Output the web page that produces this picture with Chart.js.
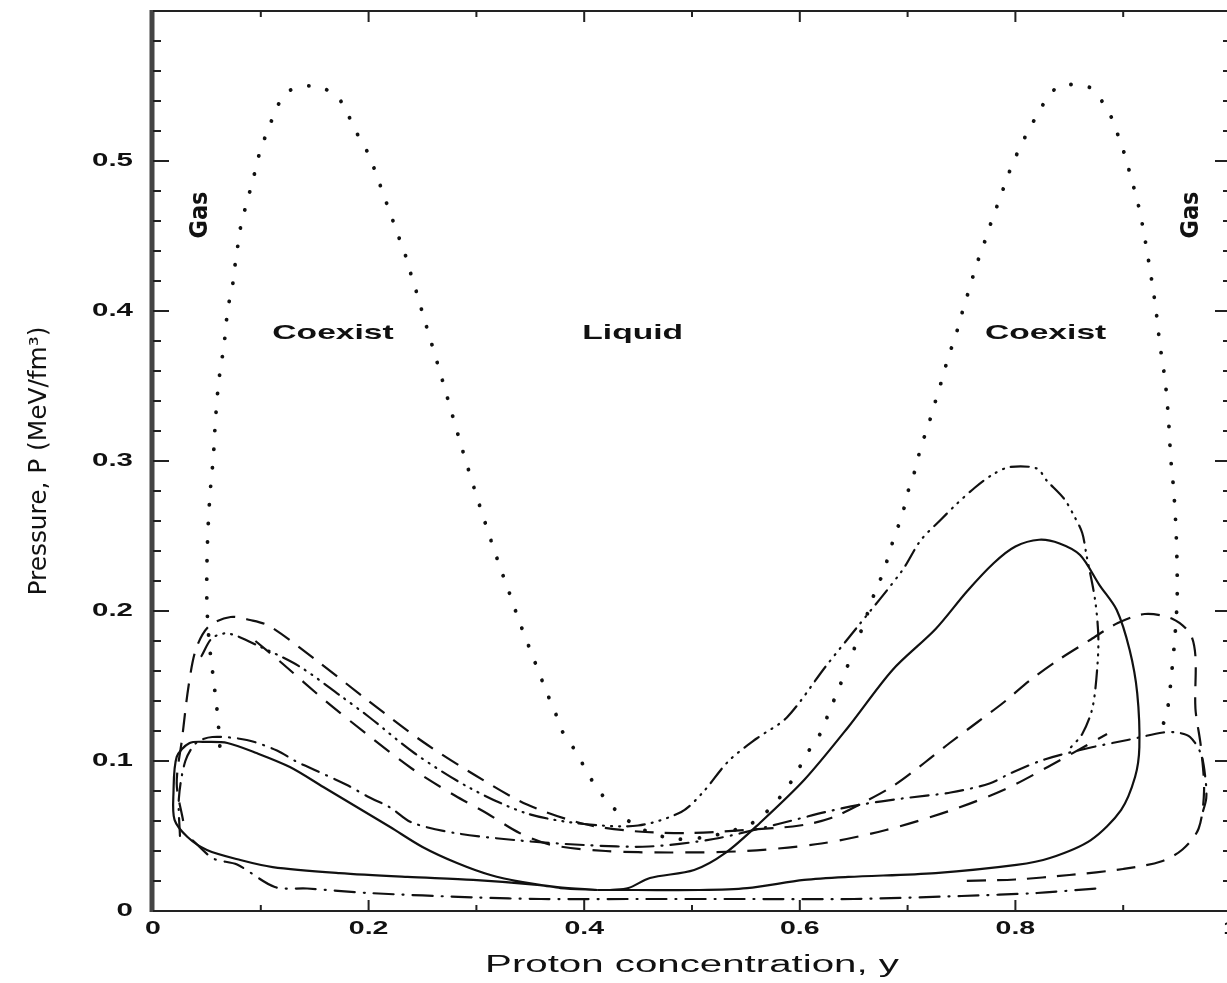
<!DOCTYPE html>
<html>
<head>
<meta charset="utf-8">
<script src="https://cdn.jsdelivr.net/npm/chart.js@4/dist/chart.umd.min.js"></script>
<style>
  html, body { margin: 0; padding: 0; overflow: hidden; background: #fff; }
  #wrap { position: absolute; left: 0; top: 0; width: 1250px; height: 983px; }
</style>
</head>
<body>
<div id="wrap"><canvas id="phaseChart"></canvas></div>
<script>
// axis ticks
const xTickValues = [0, 0.2, 0.4, 0.6, 0.8, 1];
const xTickLabels = ['0', '0.2', '0.4', '0.6', '0.8', '1'];
const yTickValues = [0, 0.1, 0.2, 0.3, 0.4, 0.5];
const yTickLabels = ['0', '0.1', '0.2', '0.3', '0.4', '0.5'];

// solid curve, left lobe (proton fraction y, pressure P)
const solidLeftY = [0.412, 0.378, 0.359, 0.297, 0.236, 0.173, 0.111, 0.081, 0.050, 0.032, 0.020, 0.019, 0.022, 0.034, 0.050, 0.069, 0.096, 0.127, 0.158, 0.189, 0.220, 0.250, 0.282, 0.313, 0.343, 0.375, 0.412];
const solidLeftP = [0.014, 0.0153, 0.0173, 0.0207, 0.0227, 0.0253, 0.0293, 0.034, 0.0407, 0.0493, 0.0607, 0.0787, 0.1027, 0.112, 0.1127, 0.112, 0.1053, 0.096, 0.0827, 0.0693, 0.056, 0.0427, 0.032, 0.024, 0.0193, 0.016, 0.014];

// solid curve, right lobe
const solidRightY = [0.412, 0.449, 0.507, 0.551, 0.604, 0.645, 0.726, 0.801, 0.832, 0.870, 0.898, 0.911, 0.915, 0.913, 0.906, 0.894, 0.878, 0.860, 0.841, 0.822, 0.800, 0.780, 0.755, 0.726, 0.686, 0.645, 0.604, 0.563, 0.531, 0.502, 0.461, 0.441, 0.424];
const solidRightP = [0.014, 0.014, 0.014, 0.0153, 0.0207, 0.0227, 0.0253, 0.0307, 0.0353, 0.0473, 0.0673, 0.0893, 0.1093, 0.1453, 0.174, 0.2007, 0.2173, 0.2373, 0.245, 0.2475, 0.243, 0.232, 0.213, 0.188, 0.1607, 0.1227, 0.0873, 0.0587, 0.0387, 0.0273, 0.022, 0.0153, 0.014];

// dotted curve
const dottedY = [0.062, 0.060, 0.056, 0.052, 0.050, 0.050, 0.051, 0.053, 0.056, 0.058, 0.061, 0.066, 0.0696, 0.0733, 0.0751, 0.0779, 0.0798, 0.0835, 0.0881, 0.0928, 0.0965, 0.102, 0.1085, 0.115, 0.126, 0.151, 0.171, 0.181, 0.189, 0.198, 0.205, 0.211, 0.217, 0.223, 0.229, 0.235, 0.240, 0.245, 0.250, 0.268, 0.286, 0.304, 0.322, 0.328, 0.340, 0.3525, 0.3655, 0.373, 0.379, 0.390, 0.398, 0.407, 0.419, 0.432, 0.444, 0.462, 0.485, 0.510, 0.535, 0.556, 0.568, 0.581, 0.593, 0.602, 0.610, 0.621, 0.627, 0.6345, 0.6475, 0.660, 0.672, 0.676, 0.682, 0.687, 0.693, 0.698, 0.702, 0.708, 0.712, 0.718, 0.723, 0.728, 0.733, 0.738, 0.744, 0.749, 0.754, 0.759, 0.764, 0.770, 0.776, 0.782, 0.788, 0.794, 0.801, 0.809, 0.818, 0.827, 0.841, 0.869, 0.882, 0.891, 0.897, 0.903, 0.907, 0.912, 0.916, 0.919, 0.925, 0.930, 0.934, 0.939, 0.942, 0.944, 0.947, 0.949, 0.950, 0.950, 0.948, 0.945, 0.941, 0.936];
const dottedP = [0.110, 0.130, 0.155, 0.180, 0.205, 0.229, 0.254, 0.279, 0.303, 0.328, 0.353, 0.378, 0.4027, 0.414, 0.426, 0.4387, 0.4507, 0.4627, 0.4753, 0.4873, 0.4993, 0.512, 0.524, 0.536, 0.5467, 0.550, 0.5427, 0.5307, 0.5187, 0.5073, 0.4953, 0.4833, 0.4713, 0.4593, 0.4473, 0.4353, 0.4227, 0.4113, 0.3987, 0.355, 0.310, 0.268, 0.229, 0.2173, 0.1927, 0.1693, 0.1453, 0.1327, 0.1207, 0.1087, 0.0987, 0.0873, 0.0753, 0.0653, 0.0587, 0.052, 0.048, 0.049, 0.053, 0.0587, 0.0653, 0.0753, 0.0873, 0.0987, 0.1087, 0.1207, 0.1327, 0.1453, 0.1693, 0.1927, 0.2173, 0.223, 0.236, 0.248, 0.260, 0.272, 0.284, 0.296, 0.309, 0.321, 0.333, 0.345, 0.357, 0.370, 0.382, 0.395, 0.407, 0.419, 0.431, 0.443, 0.456, 0.468, 0.480, 0.492, 0.504, 0.516, 0.528, 0.539, 0.550, 0.549, 0.538, 0.526, 0.513, 0.501, 0.489, 0.477, 0.464, 0.453, 0.427, 0.403, 0.378, 0.353, 0.328, 0.303, 0.279, 0.254, 0.229, 0.207, 0.183, 0.159, 0.134, 0.122];

// long-dash curve, upper
const dashY = [0.028, 0.022, 0.027, 0.033, 0.040, 0.052, 0.072, 0.090, 0.108, 0.150, 0.200, 0.250, 0.300, 0.347, 0.400, 0.450, 0.500, 0.550, 0.600, 0.629, 0.658, 0.688, 0.716, 0.739, 0.765, 0.789, 0.814, 0.839, 0.870, 0.895, 0.920, 0.945, 0.962, 0.967, 0.967, 0.972, 0.975, 0.970, 0.955, 0.935, 0.900, 0.850, 0.800, 0.750];
const dashP = [0.060, 0.085, 0.115, 0.150, 0.175, 0.190, 0.196, 0.194, 0.190, 0.168, 0.140, 0.113, 0.090, 0.071, 0.058, 0.053, 0.052, 0.054, 0.057, 0.062, 0.072, 0.084, 0.099, 0.112, 0.126, 0.139, 0.154, 0.167, 0.181, 0.192, 0.198, 0.195, 0.185, 0.170, 0.135, 0.110, 0.080, 0.055, 0.041, 0.033, 0.028, 0.024, 0.021, 0.020];

// long-dash curve, lower
const dash2Y = [0.095, 0.120, 0.160, 0.200, 0.240, 0.280, 0.310, 0.340, 0.370, 0.420, 0.480, 0.550, 0.620, 0.680, 0.740, 0.790, 0.830, 0.865, 0.885];
const dash2P = [0.180, 0.165, 0.140, 0.117, 0.095, 0.077, 0.065, 0.052, 0.044, 0.040, 0.039, 0.040, 0.045, 0.054, 0.067, 0.081, 0.096, 0.110, 0.118];

// dash-dot-dot-dot curve
const dash3DotY = [0.045, 0.055, 0.070, 0.100, 0.136, 0.173, 0.201, 0.243, 0.294, 0.347, 0.400, 0.450, 0.490, 0.510, 0.534, 0.560, 0.588, 0.624, 0.653, 0.695, 0.712, 0.731, 0.745, 0.762, 0.779, 0.795, 0.820, 0.829, 0.845, 0.854, 0.862, 0.866, 0.874, 0.877, 0.875, 0.871, 0.862, 0.850];
const dash3DotP = [0.170, 0.182, 0.185, 0.176, 0.163, 0.144, 0.129, 0.105, 0.082, 0.065, 0.058, 0.057, 0.066, 0.079, 0.100, 0.115, 0.129, 0.163, 0.189, 0.227, 0.247, 0.261, 0.271, 0.282, 0.291, 0.296, 0.295, 0.287, 0.275, 0.264, 0.252, 0.237, 0.207, 0.181, 0.154, 0.134, 0.118, 0.108];

// dash-dot curve
const dashDotY = [0.025, 0.024, 0.030, 0.040, 0.055, 0.087, 0.115, 0.132, 0.150, 0.180, 0.200, 0.220, 0.240, 0.280, 0.340, 0.400, 0.460, 0.520, 0.580, 0.624, 0.657, 0.695, 0.740, 0.776, 0.796, 0.827, 0.870, 0.904, 0.937, 0.950, 0.962, 0.972, 0.976, 0.977, 0.972];
const dashDotP = [0.050, 0.075, 0.100, 0.112, 0.116, 0.114, 0.107, 0.100, 0.094, 0.084, 0.076, 0.069, 0.059, 0.052, 0.047, 0.044, 0.043, 0.048, 0.058, 0.066, 0.071, 0.075, 0.079, 0.085, 0.092, 0.101, 0.109, 0.114, 0.119, 0.119, 0.116, 0.105, 0.090, 0.075, 0.062];

// dash-dot curve along the bottom
const lowDashDotY = [0.037, 0.056, 0.078, 0.113, 0.143, 0.200, 0.300, 0.360, 0.450, 0.550, 0.650, 0.750, 0.820, 0.875];
const lowDashDotP = [0.047, 0.035, 0.031, 0.016, 0.015, 0.012, 0.009, 0.008, 0.008, 0.008, 0.008, 0.010, 0.012, 0.015];

// region labels
const regionLabels = [
  { text: 'Coexist', y: 0.167, p: 0.385 },
  { text: 'Liquid', y: 0.445, p: 0.385 },
  { text: 'Coexist', y: 0.828, p: 0.385 }
];
const gasLabels = [
  { text: 'Gas', y: 0.044, p: 0.464 },
  { text: 'Gas', y: 0.963, p: 0.464 }
];

const toPoints = (xs, ps) => xs.map((x, i) => ({ x: x, y: ps[i] }));

function curve(xs, ps, dash, width, cap) {
  return {
    data: toPoints(xs, ps),
    showLine: true,
    borderColor: '#111',
    borderWidth: width,
    borderDash: dash,
    borderCapStyle: cap || 'butt',
    pointRadius: 0,
    tension: 0.3,
    fill: false
  };
}

// text with separate horizontal / vertical stretch
function stretchedText(ctx, text, x, y, sx, sy, rot) {
  ctx.save();
  ctx.translate(x, y);
  if (rot) ctx.rotate(rot);
  ctx.scale(sx, sy);
  ctx.fillText(text, 0, 0);
  ctx.restore();
}

const framePlugin = {
  id: 'frame',
  afterDraw(chart) {
    const { ctx, chartArea: a, scales } = chart;
    const xs = scales.x, ys = scales.y;
    ctx.save();
    ctx.strokeStyle = '#222';
    ctx.fillStyle = '#111';

    // frame
    ctx.lineWidth = 2;
    ctx.beginPath();
    ctx.moveTo(a.left, a.top); ctx.lineTo(a.right, a.top);
    ctx.moveTo(a.right, a.top); ctx.lineTo(a.right, a.bottom);
    ctx.moveTo(a.left, a.bottom); ctx.lineTo(a.right, a.bottom);
    ctx.stroke();
    ctx.strokeStyle = '#444';
    ctx.lineWidth = 5;
    ctx.beginPath();
    ctx.moveTo(a.left - 1, a.top - 1); ctx.lineTo(a.left - 1, a.bottom + 1);
    ctx.stroke();

    // inward ticks
    ctx.strokeStyle = '#222';
    ctx.lineWidth = 2;
    ctx.beginPath();
    for (let i = 0; i <= 30; i++) {
      const py = ys.getPixelForValue(i * 0.02);
      const len = i % 5 === 0 ? 16 : 8;
      ctx.moveTo(a.left, py); ctx.lineTo(a.left + len, py);
      ctx.moveTo(a.right, py); ctx.lineTo(a.right - len, py);
    }
    for (let i = 1; i < 10; i++) {
      const px = xs.getPixelForValue(i * 0.1);
      const len = i % 2 === 0 ? 11 : 6;
      ctx.moveTo(px, a.bottom); ctx.lineTo(px, a.bottom - len);
      ctx.moveTo(px, a.top); ctx.lineTo(px, a.top + len);
    }
    ctx.stroke();

    // tick labels
    ctx.font = 'bold 19px "Liberation Sans", Arial, sans-serif';
    ctx.textBaseline = 'middle';
    ctx.textAlign = 'right';
    yTickValues.forEach((v, i) => {
      stretchedText(ctx, yTickLabels[i], a.left - 20, ys.getPixelForValue(v), 1.55, 1);
    });
    ctx.textAlign = 'center';
    xTickValues.forEach((v, i) => {
      stretchedText(ctx, xTickLabels[i], xs.getPixelForValue(v), a.bottom + 18, 1.5, 1);
    });

    // axis titles
    ctx.font = '23px "Liberation Sans", Arial, sans-serif';
    stretchedText(ctx, 'Proton concentration, y', (a.left + a.right) / 2, a.bottom + 55, 1.75, 1);
    ctx.font = '24px "Liberation Sans Narrow", "DejaVu Sans Condensed", sans-serif';
    stretchedText(ctx, 'Pressure, P (MeV/fm\u00b3)', 40, (a.top + a.bottom) / 2, 1.15, 1, -Math.PI / 2);

    // region labels
    ctx.font = 'bold 21px "Liberation Sans", Arial, sans-serif';
    regionLabels.forEach(l => {
      stretchedText(ctx, l.text, xs.getPixelForValue(l.y), ys.getPixelForValue(l.p), 1.6, 1);
    });
    ctx.font = 'bold 25px "Liberation Sans Narrow", "DejaVu Sans Condensed", sans-serif';
    gasLabels.forEach(l => {
      stretchedText(ctx, l.text, xs.getPixelForValue(l.y), ys.getPixelForValue(l.p), 1, 1, -Math.PI / 2);
    });
    ctx.restore();
  }
};

new Chart(document.getElementById('phaseChart').getContext('2d'), {
  type: 'scatter',
  data: {
    datasets: [
      curve(solidLeftY, solidLeftP, [], 2.2),
      curve(solidRightY, solidRightP, [], 2.2),
      curve(dottedY, dottedP, [0.1, 18.5], 3.8, 'round'),
      curve(dashY, dashP, [19, 11], 2.2),
      curve(dash2Y, dash2P, [19, 12], 2.2),
      curve(dash3DotY, dash3DotP, [18, 7, 1, 7, 1, 7, 1, 7], 2.2, 'round'),
      curve(dashDotY, dashDotP, [18, 8, 1, 8], 2.2, 'round'),
      curve(lowDashDotY, lowDashDotP, [20, 9, 1, 9], 2.2, 'round')
    ]
  },
  options: {
    responsive: true,
    maintainAspectRatio: false,
    animation: false,
    layout: { padding: { top: 11, right: 19, left: 0, bottom: 0 } },
    plugins: { legend: { display: false }, tooltip: { enabled: false } },
    scales: {
      x: {
        type: 'linear', min: 0, max: 1,
        grid: { display: false, drawTicks: false },
        border: { display: false },
        ticks: { display: false },
        afterFit: s => { s.height = 72; }
      },
      y: {
        type: 'linear', min: 0, max: 0.6,
        grid: { display: false, drawTicks: false },
        border: { display: false },
        ticks: { display: false },
        afterFit: s => { s.width = 153; }
      }
    }
  },
  plugins: [framePlugin]
});
</script>
</body>
</html>
